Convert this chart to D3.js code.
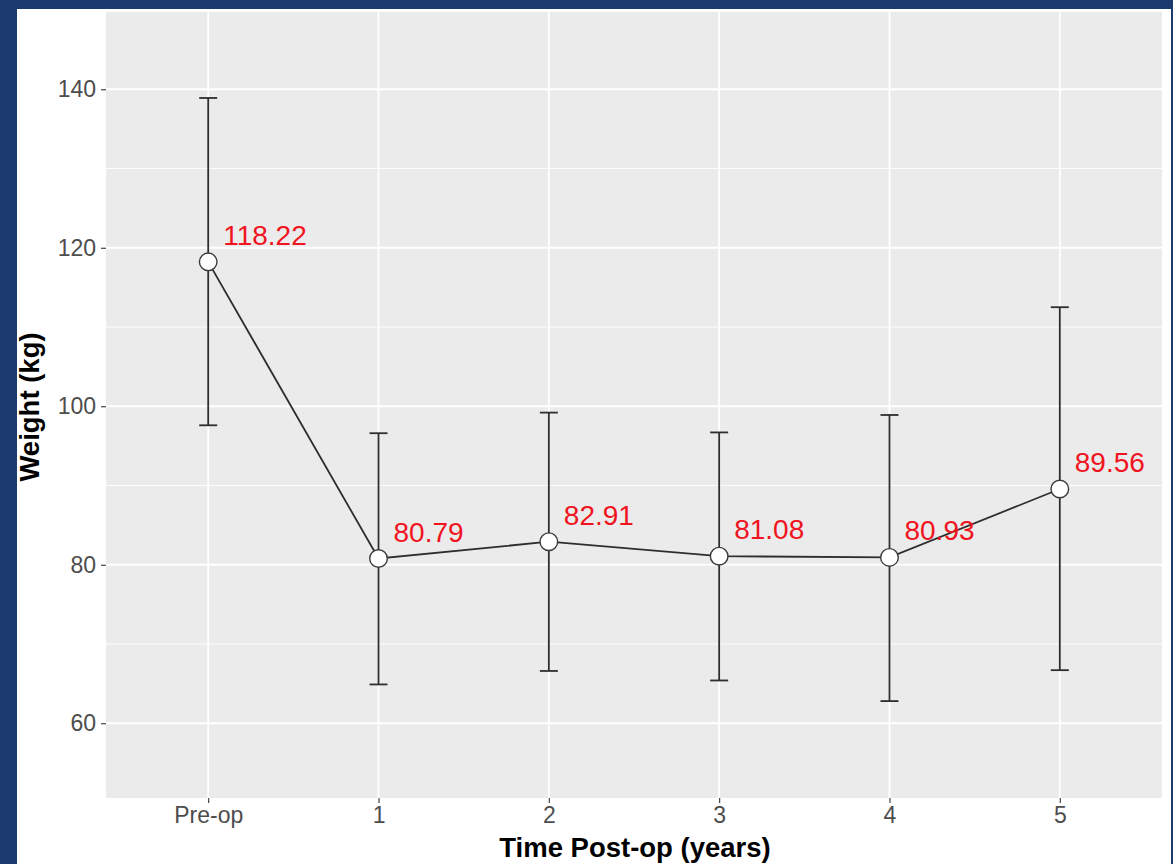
<!DOCTYPE html>
<html>
<head>
<meta charset="utf-8">
<script src="https://cdn.jsdelivr.net/npm/d3@7"></script>
<style>
  html, body { margin: 0; padding: 0; background: #1d3a6e; }
  svg { display: block; }
  text { font-family: "Liberation Sans", Arial, Helvetica, sans-serif; }
</style>
</head>
<body>
<svg id="chart" width="1173" height="864"></svg>
<script>
// Time points after surgery
const categories = ["Pre-op", "1", "2", "3", "4", "5"];
// Mean weight (kg) at each time point
const meanWeight = [118.22, 80.79, 82.91, 81.08, 80.93, 89.56];
// Error bar limits (kg)
const lowerWeight = [97.6, 64.9, 66.6, 65.4, 62.8, 66.7];
const upperWeight = [138.9, 96.6, 99.2, 96.7, 98.9, 112.5];
// Axis ticks
const yMajorTicks = [60, 80, 100, 120, 140];
const yMinorTicks = [70, 90, 110, 130];

const svg = d3.select("#chart");
const W = 1173, H = 864;

// white page on a dark blue frame
svg.append("rect").attr("x", 0).attr("y", 0).attr("width", W).attr("height", H).attr("fill", "#1d3a6e");
svg.append("rect").attr("x", 17).attr("y", 9).attr("width", 1154).attr("height", H - 9).attr("fill", "#ffffff");

const panel = { left: 106, right: 1162, top: 12, bottom: 798 };

const x = d3.scalePoint()
  .domain(categories)
  .range([panel.left, panel.right])
  .padding(0.6);

const y = d3.scaleLinear()
  .domain([50.57, 149.75])
  .range([panel.bottom, panel.top]);

const data = categories.map((c, i) => ({
  cat: c, mean: meanWeight[i], lo: lowerWeight[i], hi: upperWeight[i]
}));

// panel background
svg.append("rect")
  .attr("x", panel.left).attr("y", panel.top)
  .attr("width", panel.right - panel.left).attr("height", panel.bottom - panel.top)
  .attr("fill", "#ebebeb");

const grid = svg.append("g");
grid.selectAll("line.minor").data(yMinorTicks).join("line")
  .attr("class", "minor")
  .attr("x1", panel.left).attr("x2", panel.right)
  .attr("y1", d => y(d)).attr("y2", d => y(d))
  .attr("stroke", "#ffffff").attr("stroke-width", 0.9);
grid.selectAll("line.majorY").data(yMajorTicks).join("line")
  .attr("class", "majorY")
  .attr("x1", panel.left).attr("x2", panel.right)
  .attr("y1", d => y(d)).attr("y2", d => y(d))
  .attr("stroke", "#ffffff").attr("stroke-width", 1.8);
grid.selectAll("line.majorX").data(categories).join("line")
  .attr("class", "majorX")
  .attr("x1", d => x(d)).attr("x2", d => x(d))
  .attr("y1", panel.top).attr("y2", panel.bottom)
  .attr("stroke", "#ffffff").attr("stroke-width", 1.8);

// axes
const yAxis = d3.axisLeft(y).tickValues(yMajorTicks).tickSize(5).tickPadding(5);
const gy = svg.append("g").attr("transform", `translate(${panel.left},0)`).call(yAxis);
gy.select(".domain").remove();
gy.selectAll(".tick line").attr("stroke", "#333333").attr("stroke-width", 1.1);
gy.selectAll(".tick text").attr("fill", "#4d4d4d").attr("font-size", 23)
  .attr("font-family", "Liberation Sans, Arial, sans-serif");

const xAxis = d3.axisBottom(x).tickSize(5).tickPadding(4);
const gx = svg.append("g").attr("transform", `translate(0,${panel.bottom})`).call(xAxis);
gx.select(".domain").remove();
gx.selectAll(".tick line").attr("stroke", "#333333").attr("stroke-width", 1.1);
gx.selectAll(".tick text").attr("fill", "#4d4d4d").attr("font-size", 23)
  .attr("font-family", "Liberation Sans, Arial, sans-serif");

// axis titles
svg.append("text")
  .attr("x", (panel.left + panel.right) / 2 + 1).attr("y", 857)
  .attr("text-anchor", "middle")
  .attr("font-size", 27.5).attr("font-weight", "bold").attr("fill", "#000")
  .text("Time Post-op (years)");
svg.append("text")
  .attr("transform", `translate(39,${(panel.top + panel.bottom) / 2 + 2}) rotate(-90)`)
  .attr("text-anchor", "middle")
  .attr("font-size", 27.5).attr("font-weight", "bold").attr("fill", "#000")
  .text("Weight (kg)");

const ink = "#2e2e2e";

// error bars
const eb = svg.append("g").attr("stroke", ink).attr("stroke-width", 1.8).attr("fill", "none");
eb.selectAll("line.v").data(data).join("line").attr("class", "v")
  .attr("x1", d => x(d.cat)).attr("x2", d => x(d.cat))
  .attr("y1", d => y(d.lo)).attr("y2", d => y(d.hi));
eb.selectAll("line.top").data(data).join("line").attr("class", "top")
  .attr("x1", d => x(d.cat) - 9).attr("x2", d => x(d.cat) + 9)
  .attr("y1", d => y(d.hi)).attr("y2", d => y(d.hi));
eb.selectAll("line.bot").data(data).join("line").attr("class", "bot")
  .attr("x1", d => x(d.cat) - 9).attr("x2", d => x(d.cat) + 9)
  .attr("y1", d => y(d.lo)).attr("y2", d => y(d.lo));

// mean line
const line = d3.line().x(d => x(d.cat)).y(d => y(d.mean));
svg.append("path").datum(data)
  .attr("d", line)
  .attr("fill", "none").attr("stroke", ink).attr("stroke-width", 1.8);

// value labels
svg.append("g").selectAll("text").data(data).join("text")
  .attr("x", d => x(d.cat) + 15)
  .attr("y", d => y(d.mean) - 17)
  .attr("font-size", 28)
  .attr("fill", "#f0141e")
  .text(d => d.mean.toFixed(2));

// mean points
svg.append("g").selectAll("circle").data(data).join("circle")
  .attr("cx", d => x(d.cat)).attr("cy", d => y(d.mean))
  .attr("r", 8.8)
  .attr("fill", "#ffffff").attr("stroke", "#3a3a3a").attr("stroke-width", 1.4);
</script>
</body>
</html>
